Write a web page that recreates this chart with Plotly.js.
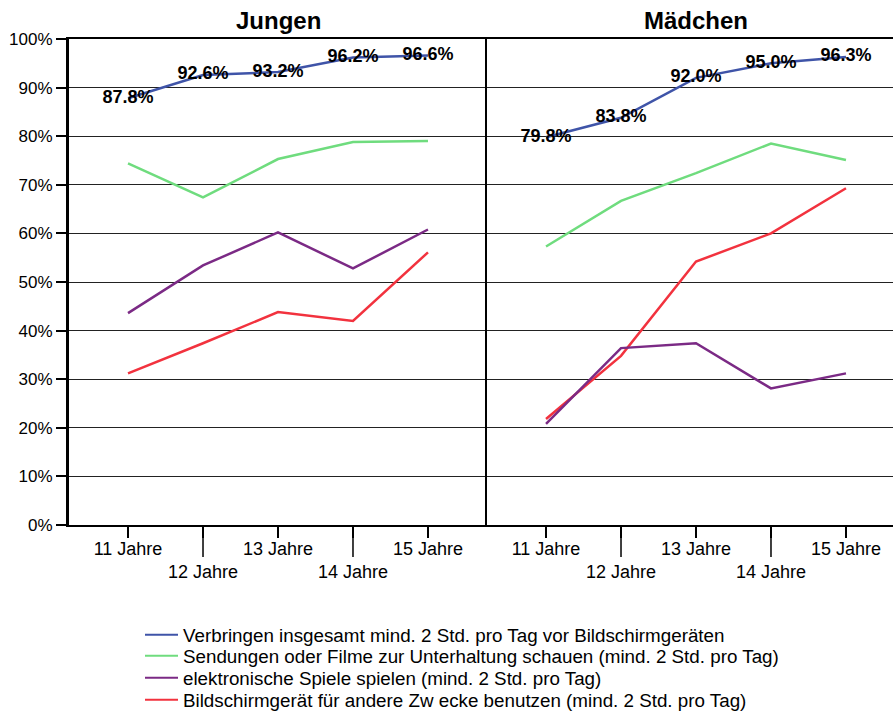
<!DOCTYPE html>
<html>
<head>
<meta charset="utf-8">
<script src="https://cdn.plot.ly/plotly-3.0.1.min.js"></script>
<style>
  body { margin: 0; background: white; }
  #graph { width: 894px; height: 712px; }
</style>
</head>
<body>
<div id="graph"></div>
<script>
// Daten
var alter = ['11 Jahre', '12 Jahre', '13 Jahre', '14 Jahre', '15 Jahre'];
var tickTexte = ['11 Jahre', '<br>12 Jahre', '13 Jahre', '<br>14 Jahre', '15 Jahre'];
var serien = [
    'Verbringen insgesamt mind. 2 Std. pro Tag vor Bildschirmgeräten',
    'Sendungen oder Filme zur Unterhaltung schauen (mind. 2 Std. pro Tag)',
    'elektronische Spiele spielen (mind. 2 Std. pro Tag)',
    'Bildschirmgerät für andere Zw ecke benutzen (mind. 2 Std. pro Tag)'
];
var farben = ['#3f54a8', '#6fdc7e', '#7b2a85', '#f2323e'];

var jungenGesamt = [87.8, 92.6, 93.2, 96.2, 96.6];
var jungenFilme = [74.4, 67.4, 75.3, 78.8, 79.0];
var jungenSpiele = [43.6, 53.4, 60.2, 52.8, 60.8];
var jungenAndere = [31.2, 37.4, 43.8, 42.0, 56.1];

var maedchenGesamt = [79.8, 83.8, 92.0, 95.0, 96.3];
var maedchenFilme = [57.3, 66.7, 72.4, 78.5, 75.1];
var maedchenSpiele = [20.8, 36.4, 37.4, 28.1, 31.2];
var maedchenAndere = [21.8, 34.8, 54.2, 60.0, 69.3];

var schrift = 'Liberation Sans, Arial, sans-serif';

// Funcion que arma una serie
function linie(y, i, xa, ya) {
    var t = {
        x: alter,
        y: y,
        xaxis: xa,
        yaxis: ya,
        type: 'scatter',
        mode: 'lines',
        name: serien[i],
        showlegend: false,
        line: { color: farben[i], width: 2.5 },
        cliponaxis: false
    };
    if (i == 0) {
        t.mode = 'lines+text';
        t.texttemplate = '%{y:.1f}%';
        t.textposition = 'middle center';
        t.textfont = { family: schrift, size: 18, color: 'black', weight: 'bold' };
    }
    return t;
}

var jungen = [jungenGesamt, jungenFilme, jungenSpiele, jungenAndere];
var maedchen = [maedchenGesamt, maedchenFilme, maedchenSpiele, maedchenAndere];
var data = [];
for (var i = 3; i >= 0; i--) {
    data.push(linie(jungen[i], i, 'x', 'y'));
    data.push(linie(maedchen[i], i, 'x2', 'y2'));
}
// eine Legende pro Zeile
var legendNamen = ['legend', 'legend2', 'legend3', 'legend4'];
for (var i = 0; i < 4; i++) {
    data.push({
        x: [null], y: [null], xaxis: 'x', yaxis: 'y',
        type: 'scatter', mode: 'lines', name: serien[i],
        legend: legendNamen[i],
        line: { color: farben[i], width: 2 }
    });
}

var split = (487 - 69) / 824;

var xBasis = {
    type: 'category',
    tickmode: 'array',
    tickvals: alter,
    ticktext: tickTexte,
    ticks: 'outside',
    ticklen: 11,
    tickwidth: 1.5,
    tickcolor: 'black',
    ticklabelstandoff: -5,
    showline: true,
    linewidth: 2,
    linecolor: 'black',
    mirror: true,
    showgrid: false,
    zeroline: false,
    automargin: false,
    tickangle: 0,
    tickfont: { family: schrift, size: 18, color: 'black' },
    fixedrange: true
};
var xa1 = Object.assign({}, xBasis, { domain: [0, split], range: [-0.787, 4.787], anchor: 'y' });
var xa2 = Object.assign({}, xBasis, { domain: [split, 1], range: [-0.787, 4.627], anchor: 'y2' });

var ya1 = {
    range: [0, 100],
    dtick: 10,
    ticksuffix: '%',
    ticks: 'outside',
    ticklen: 10,
    tickwidth: 2,
    tickcolor: 'black',
    showline: true,
    linewidth: 3,
    linecolor: 'black',
    showgrid: true,
    gridcolor: '#222',
    gridwidth: 1,
    zeroline: false,
    automargin: false,
    tickfont: { family: schrift, size: 17, color: 'black' },
    anchor: 'x',
    fixedrange: true
};
var ya2 = Object.assign({}, ya1, {
    anchor: 'x2', matches: 'y', showticklabels: false, ticks: '', linewidth: 2.5
});

// lange Striche bei 12 und 14 Jahren
var shapes = [];
['x', 'x2'].forEach(function (xr) {
    [alter[1], alter[3]].forEach(function (a) {
        shapes.push({
            type: 'line', xref: xr, yref: 'paper',
            x0: a, x1: a, y0: 0, y1: -32 / 486,
            line: { color: 'black', width: 1.5 }
        });
    });
});

var layout = {
    width: 894,
    height: 712,
    margin: { l: 69, r: 1, t: 39, b: 187, autoexpand: false },
    paper_bgcolor: 'white',
    plot_bgcolor: 'white',
    font: { family: schrift, color: 'black' },
    xaxis: xa1,
    xaxis2: xa2,
    yaxis: ya1,
    yaxis2: ya2,
    shapes: shapes,
    annotations: [
        { text: '<b>Jungen</b>', xref: 'paper', yref: 'paper', x: split / 2, y: 1, yshift: 19,
          xanchor: 'center', yanchor: 'middle',
          showarrow: false, font: { family: schrift, size: 24, color: 'black' } },
        { text: '<b>Mädchen</b>', xref: 'paper', yref: 'paper', x: (696 - 69) / 824, y: 1, yshift: 19,
          xanchor: 'center', yanchor: 'middle',
          showarrow: false, font: { family: schrift, size: 24, color: 'black' } }
    ],
    showlegend: true
};

var zeilen = [635, 656, 678, 700];
for (var i = 0; i < 4; i++) {
    layout[legendNamen[i]] = {
        xref: 'container',
        yref: 'container',
        x: 140 / 894,
        y: 1 - zeilen[i] / 712,
        xanchor: 'left',
        yanchor: 'middle',
        font: { family: schrift, size: 18.8, color: 'black' },
        bgcolor: 'rgba(0,0,0,0)',
        itemwidth: 33
    };
}

Plotly.newPlot('graph', data, layout, { staticPlot: true });
</script>
</body>
</html>
